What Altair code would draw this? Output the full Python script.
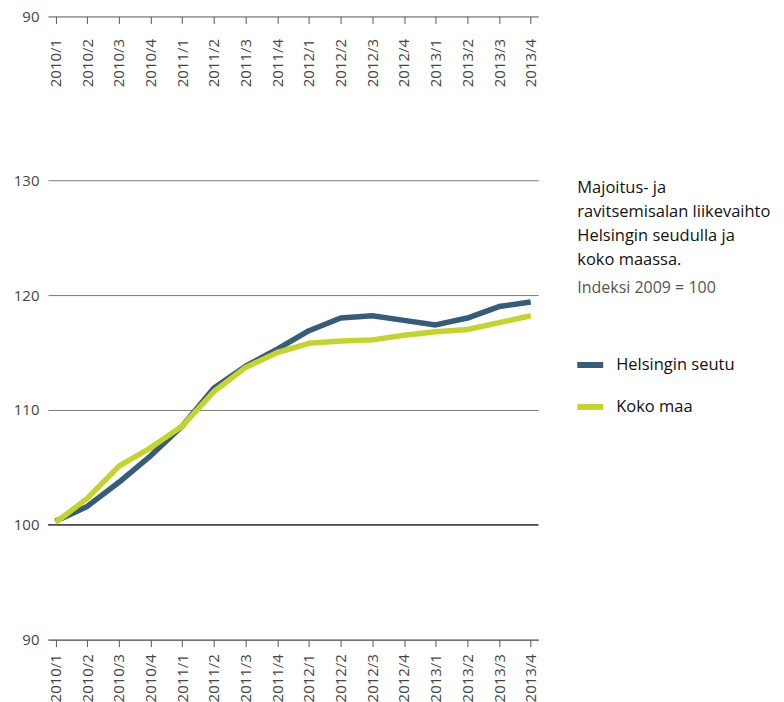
import altair as alt
import pandas as pd

QUARTERS = ["2010/1", "2010/2", "2010/3", "2010/4",
            "2011/1", "2011/2", "2011/3", "2011/4",
            "2012/1", "2012/2", "2012/3", "2012/4",
            "2013/1", "2013/2", "2013/3", "2013/4"]
HELSINKI = [100.3, 101.6, 103.7, 106.0, 108.6, 111.9, 113.8, 115.3,
            116.9, 118.0, 118.2, 117.8, 117.4, 118.0, 119.0, 119.4]
KOKO_MAA = [100.2, 102.3, 105.1, 106.7, 108.6, 111.6, 113.7, 115.0,
            115.8, 116.0, 116.1, 116.5, 116.8, 117.0, 117.6, 118.2]
SERIES = ["Helsingin seutu", "Koko maa"]
COLORS = ["#355d79", "#c3d52d"]
Y_TICKS = [90, 100, 110, 120, 130]
Y_DOMAIN = [90, 130]
TITLE_LINES = ["Majoitus- ja", "ravitsemisalan liikevaihto",
               "Helsingin seudulla ja", "koko maassa."]
SUBTITLE = "Indeksi 2009 = 100"

FONT = "Open Sans"
W = 491

rows = []
for q, h, k in zip(QUARTERS, HELSINKI, KOKO_MAA):
    rows.append({"quarter": q, "series": SERIES[0], "value": h})
    rows.append({"quarter": q, "series": SERIES[1], "value": k})
df = pd.DataFrame(rows)

x_scale = alt.Scale(type="point", padding=0.24)
y_scale = alt.Scale(domain=Y_DOMAIN, nice=False, zero=False)


def x_axis(pad):
    return alt.Axis(title=None, labelAngle=270, labelFont=FONT, labelFontSize=15,
                    labelColor="#444444", labelPadding=pad, tickSize=7,
                    tickColor="#555555", domainColor="#555555", grid=False)


# top strip (axis only)
top = alt.Chart(df).mark_point(opacity=0).encode(
    x=alt.X("quarter:N", sort=QUARTERS, scale=x_scale, axis=x_axis(15)),
    y=alt.Y("value:Q", scale=y_scale,
            axis=alt.Axis(title=None, values=[90], grid=False, domain=False,
                          ticks=False, labelFont=FONT, labelFontSize=15,
                          labelColor="#444444", labelPadding=9, minExtent=35)),
).properties(width=W, height=1)

y_enc = alt.Y("value:Q", scale=y_scale,
              axis=alt.Axis(title=None, values=Y_TICKS, grid=True,
                            gridColor="#7a7a7a", gridWidth=1, domain=False,
                            ticks=False, labelFont=FONT, labelFontSize=15,
                            labelColor="#444444", labelPadding=9, minExtent=35))

base = alt.Chart(df)

lines = base.mark_line(strokeWidth=5.5, strokeJoin="round").encode(
    x=alt.X("quarter:N", sort=QUARTERS, scale=x_scale, axis=x_axis(7)),
    y=y_enc,
    color=alt.Color("series:N", sort=SERIES,
                    scale=alt.Scale(domain=SERIES, range=COLORS),
                    legend=alt.Legend(orient="none", legendX=527, legendY=334,
                                      title=None, symbolType="stroke",
                                      symbolSize=676, symbolStrokeWidth=6,
                                      labelFont=FONT, labelFontSize=16.5,
                                      labelColor="#111111", labelOffset=10,
                                      rowPadding=14, padding=0)),
)

rule100 = alt.Chart(pd.DataFrame({"value": [100]})).mark_rule(
    color="#111111", strokeWidth=1).encode(y=alt.Y("value:Q", scale=y_scale))

title_df = pd.DataFrame({"t": ["\n".join(TITLE_LINES)]})
title_txt = alt.Chart(title_df).mark_text(
    align="left", baseline="alphabetic", lineBreak="\n", lineHeight=24,
    font=FONT, fontSize=16.5, color="#111111").encode(
    text="t:N", x=alt.value(530), y=alt.value(13))

sub_df = pd.DataFrame({"t": [SUBTITLE]})
sub_txt = alt.Chart(sub_df).mark_text(
    align="left", baseline="alphabetic", font=FONT, fontSize=16,
    color="#555555").encode(text="t:N", x=alt.value(530), y=alt.value(113))

main = alt.layer(rule100, lines, title_txt, sub_txt).properties(width=W, height=460)

chart = alt.vconcat(top, main, spacing=86).resolve_scale(
    x="independent", y="independent"
).properties(
    padding={"left": 5, "top": 1, "right": 5, "bottom": 0}
).configure_view(stroke=None)

chart.save("out.html", embed_options={"renderer": "svg", "actions": False})
